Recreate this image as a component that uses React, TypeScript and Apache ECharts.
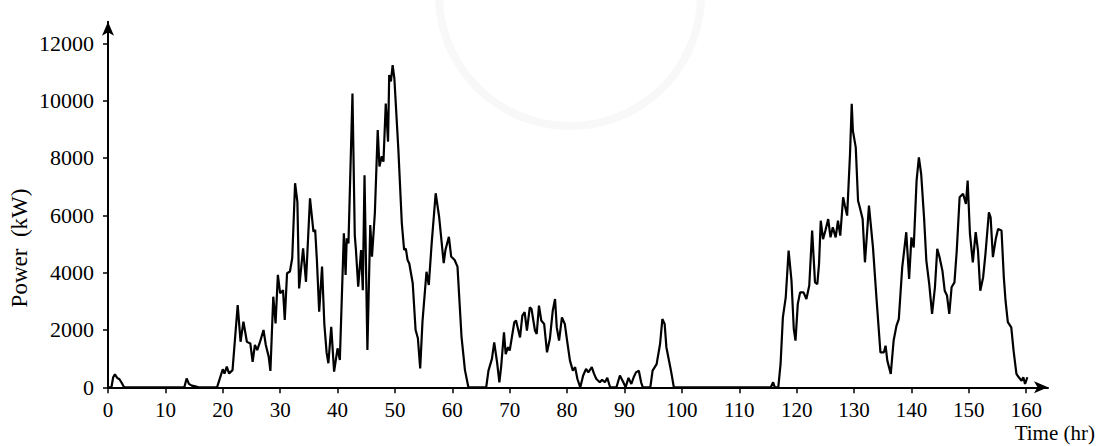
import React, { useEffect, useRef } from "react";
import * as echarts from "echarts";

const hours: number[] = [
  0, 0.6, 0.9, 1.2, 1.6, 2.0, 2.4, 2.8, 13.3, 13.7, 14.1, 14.6, 15.2, 15.8,
  19.0, 19.4, 20.0, 20.3, 20.7, 21.1, 21.7, 22.6, 23.1, 23.6, 24.2, 24.8, 25.2, 25.6, 26.0, 26.5,
  27.1, 27.5, 28.0, 28.3, 28.8, 29.2, 29.6, 30.0, 30.5, 30.8, 31.2, 31.7, 32.1, 32.6, 33.0, 33.3,
  34.0, 34.5, 35.2, 35.8, 36.1, 36.4, 36.8, 37.3, 37.7, 38.1, 38.4, 38.9, 39.4, 40.0, 40.4, 41.1,
  41.4, 41.6, 41.9, 42.6, 43.0, 43.2, 43.6, 44.1, 44.4, 44.7, 45.2, 45.7, 46.0, 46.5, 47.0, 47.3,
  47.7, 48.0, 48.4, 48.8, 49.0, 49.3, 49.6, 49.9, 50.6, 51.2, 51.6, 51.9, 52.2, 52.5, 53.1, 53.6,
  54.0, 54.4, 54.8, 55.5, 55.9, 56.4, 57.1, 57.7, 58.5, 58.8, 59.4, 59.8, 60.4, 60.9, 61.6, 62.2,
  62.8, 65.9, 66.3, 66.9, 67.3, 67.8, 68.2, 68.5, 69.0, 69.3, 69.7, 70.0, 70.8, 71.1, 71.8, 72.2,
  72.6, 73.0, 73.5, 73.8, 74.4, 74.7, 75.1, 75.5, 76.0, 76.5, 77.0, 77.5, 77.9, 78.2, 78.6, 79.1,
  79.6, 80.0, 80.5, 81.0, 81.4, 81.8, 82.3, 82.8, 83.3, 83.7, 84.3, 84.7, 85.1, 85.7, 86.1, 86.6,
  87.0, 87.5, 88.6, 89.2, 89.8, 90.2, 90.7, 91.2, 91.6, 92.0, 92.5, 92.9, 93.2, 94.5, 94.9, 95.6,
  96.2, 96.6, 97.0, 97.3, 97.7, 98.1, 98.6, 115.5, 115.9, 116.2, 116.8, 117.2, 117.6, 118.1, 118.6,
  119.1, 119.5, 119.8, 120.2, 120.6, 121.2, 121.7, 122.2, 122.7, 123.2, 123.6, 123.9, 124.2, 124.6,
  125.0, 125.5, 125.9, 126.3, 126.8, 127.2, 127.6, 128.1, 128.4, 128.8, 129.3, 129.6, 129.8, 130.3,
  130.7, 131.0, 131.5, 131.9, 132.3, 132.6, 133.3, 133.9, 134.6, 135.2, 135.5, 135.8, 136.4, 136.9,
  137.4, 137.8, 138.4, 138.6, 139.1, 139.6, 140.0, 140.4, 140.9, 141.3, 141.7, 142.2, 142.6, 143.1,
  143.6, 144.1, 144.5, 144.9, 145.4, 145.8, 146.2, 146.6, 147.0, 147.5, 147.9, 148.4, 149.0, 149.5,
  149.8, 150.2, 150.7, 151.2, 151.6, 152.0, 152.5, 152.9, 153.5, 153.8, 154.2, 154.7, 155.1, 155.7,
  156.1, 156.4, 156.8, 157.4, 157.8, 158.3, 158.7, 159.2, 159.5, 159.8, 160.2,
];

const powerKW: number[] = [
  0, 0, 350, 450, 330, 280, 150, 0, 0, 310, 120, 60, 30, 0,
  0, 250, 630, 480, 720, 480, 600, 2870, 1590, 2290, 1590, 1530, 890, 1475, 1300, 1590,
  2000, 1475, 1070, 570, 3160, 2230, 3920, 3280, 3390, 2350, 3980, 4040, 4500, 7120, 6470, 3450,
  4850, 3680, 6590, 5430, 5490, 4440, 2640, 4210, 2200, 1200, 840, 2110, 545, 1360, 950, 5370,
  3920, 5200, 5020, 10250, 5310, 4800, 3510, 4790, 3390, 7400, 1300, 5660, 4560, 6070, 8970, 7700,
  8060, 7870, 9900, 8570, 10890, 10670, 11240, 10780, 8280, 5720, 4790, 4840, 4440, 4320, 3630, 2000,
  1710, 660, 2290, 4030, 3570, 5020, 6770, 5950, 4330, 4790, 5250, 4560, 4440, 4210, 1770, 600,
  0, 0, 580, 990, 1570, 870, 175, 700, 1920, 1160, 1400, 1280, 2270, 2330, 1740, 2500,
  2620, 1980, 2790, 2730, 1980, 1860, 2850, 2330, 2210, 1220, 1690, 2670, 3080, 2090, 1630, 2440,
  2210, 1630, 930, 580, 700, 290, 0, 410, 640, 520, 700, 470, 290, 175, 260, 175,
  330, 0, 0, 410, 175, 0, 330, 115, 350, 520, 580, 175, 0, 0, 580, 810,
  1510, 2380, 2210, 1400, 990, 580, 0, 0, 175, 0, 0, 815, 2440, 3140, 4770,
  3720, 2040, 1630, 2910, 3310, 3310, 3080, 3550, 5470, 3660, 3600, 4300, 5810, 5170,
  5460, 5870, 5230, 5580, 5230, 5810, 5290, 6630, 6340, 5990, 8140, 9890, 8950, 8370,
  6510, 6280, 5870, 4360, 5470, 6340, 4880, 3140, 1220, 1220, 1450, 930, 465, 1630,
  2150, 2380, 4190, 4530, 5410, 3780, 5230, 4880, 7210, 8020, 7440, 5930, 4420, 3610,
  2560, 3490, 4830, 4540, 4070, 3370, 3200, 2560, 3490, 3660, 4770, 6630, 6750, 6400,
  7210, 5350, 4360, 5410, 4770, 3370, 3840, 4650, 6100, 5930, 4540, 5180, 5520, 5470,
  3840, 3020, 2270, 2090, 1280, 465, 350, 230, 350, 115, 350,
];

const xTicks: number[] = [0, 10, 20, 30, 40, 50, 60, 70, 80, 90, 100, 110, 120, 130, 140, 150, 160];
const yTicks: number[] = [0, 2000, 4000, 6000, 8000, 10000, 12000];

const FONT = "Liberation Serif";

export default function App() {
  const ref = useRef<HTMLDivElement>(null);
  useEffect(() => {
    if (!ref.current) return;
    const chart = echarts.init(ref.current, undefined, { renderer: "svg" });
    const data = hours.map((h, i) => [h, powerKW[i]]);
    chart.setOption({
      animation: false,
      backgroundColor: "#ffffff",
      grid: { left: 108, right: 53, top: 21.8, bottom: 58.7, containLabel: false },
      xAxis: {
        type: "value",
        min: 0,
        max: 163.8,
        axisLine: {
          show: true,
          symbol: ["none", "arrow"],
          symbolSize: [9, 14],
          lineStyle: { color: "#000", width: 2 },
        },
        axisTick: { show: true, customValues: xTicks, length: 6, lineStyle: { color: "#000", width: 1.5 } },
        axisLabel: {
          customValues: xTicks,
          formatter: (v: number) => String(v),
          color: "#000",
          fontFamily: FONT,
          fontSize: 21,
          margin: 12,
        },
        splitLine: { show: false },
      },
      yAxis: {
        type: "value",
        min: 0,
        max: 12750,
        axisLine: {
          show: true,
          symbol: ["none", "arrow"],
          symbolSize: [9, 14],
          lineStyle: { color: "#000", width: 2 },
        },
        axisTick: { show: true, customValues: yTicks, length: 5, lineStyle: { color: "#000", width: 1.5 } },
        axisLabel: {
          customValues: yTicks,
          formatter: (v: number) => String(v),
          color: "#000",
          fontFamily: FONT,
          fontSize: 22,
          margin: 14,
        },
        splitLine: { show: false },
      },
      graphic: [
        {
          type: "ring",
          shape: { cx: 570, cy: -5, r: 135, r0: 127 },
          style: { fill: "#f8f8f8" },
          silent: true,
          z: -10,
        },
        {
          type: "text",
          x: 19,
          y: 248,
          rotation: Math.PI / 2,
          style: {
            text: "Power  (kW)",
            fill: "#000",
            font: `23px '${FONT}'`,
            textAlign: "center",
            textVerticalAlign: "middle",
          },
        },
        {
          type: "text",
          x: 1095,
          y: 433,
          style: {
            text: "Time (hr)",
            fill: "#000",
            font: `21px '${FONT}'`,
            textAlign: "right",
            textVerticalAlign: "middle",
          },
        },
      ],
      series: [
        {
          type: "line",
          data,
          showSymbol: false,
          symbol: "none",
          lineStyle: { color: "#000", width: 2.2 },
          itemStyle: { color: "#000" },
        },
      ],
    });
    return () => chart.dispose();
  }, []);
  return (
    <div
      ref={ref}
      style={{ position: "absolute", left: 0, top: 0, width: 1101, height: 446, background: "#fff" }}
    />
  );
}
